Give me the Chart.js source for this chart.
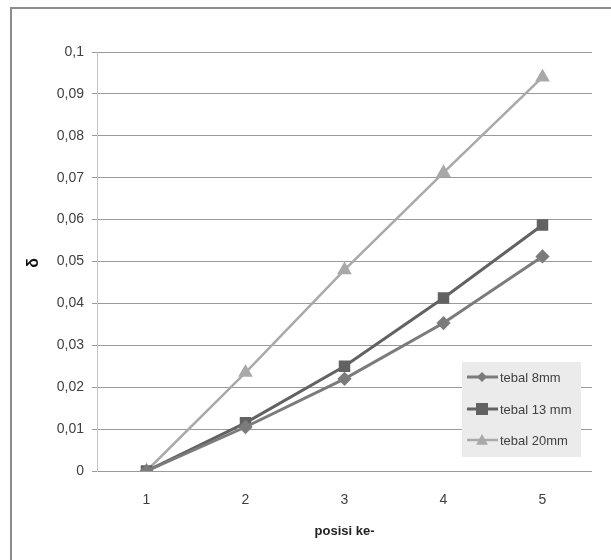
<!DOCTYPE html>
<html>
<head>
<meta charset="utf-8">
<script src="https://cdn.jsdelivr.net/npm/chart.js@4"></script>
<style>
  html, body { margin: 0; padding: 0; background: #fff; }
  #wrap { width: 611px; height: 560px; position: relative; }
</style>
</head>
<body>
<div id="wrap"><canvas id="chart" width="611" height="560"></canvas></div>
<script>
const positions = ['1', '2', '3', '4', '5'];
const tebal8 = [0, 0.0105, 0.022, 0.0353, 0.0512];
const tebal13 = [0, 0.0115, 0.025, 0.0413, 0.0587];
const tebal20 = [0, 0.0235, 0.048, 0.0712, 0.094];
const seriesLabels = ['tebal 8mm', 'tebal 13 mm', 'tebal 20mm'];

const FONT = "'Liberation Sans', sans-serif";
const TEXT = '#404040';

// frame + inner legend + y title, drawn by hand to sit where Excel puts them
const decor = {
    id: 'decor',
    beforeDraw(chart) {
        const ctx = chart.ctx;
        ctx.save();
        ctx.strokeStyle = '#8c8c8c';
        ctx.lineWidth = 2;
        ctx.beginPath();
        ctx.moveTo(11, 560);
        ctx.lineTo(11, 8);
        ctx.lineTo(611, 8);
        ctx.stroke();
        ctx.restore();
    },
    afterDraw(chart) {
        const ctx = chart.ctx;
        ctx.save();
        // y title
        ctx.fillStyle = '#111';
        ctx.font = "bold 16px " + FONT;
        ctx.translate(34, 263);
        ctx.rotate(-Math.PI / 2);
        ctx.textAlign = 'center';
        ctx.textBaseline = 'middle';
        ctx.fillText('δ', 0, 0);
        ctx.restore();

        // legend box
        ctx.save();
        ctx.fillStyle = '#ebebeb';
        ctx.fillRect(462, 362, 119, 95);
        const rows = [377, 409, 440];
        chart.data.datasets.forEach((ds, i) => {
            const y = rows[i];
            ctx.strokeStyle = ds.borderColor;
            ctx.lineWidth = ds.borderWidth;
            ctx.beginPath();
            ctx.moveTo(467, y);
            ctx.lineTo(498, y);
            ctx.stroke();
            ctx.fillStyle = ds.backgroundColor;
            const r = ds.pointRadius;
            ctx.beginPath();
            if (ds.pointStyle === 'rect') {
                ctx.rect(482 - r, y - r, 2 * r, 2 * r);
            } else if (ds.pointStyle === 'rectRot') {
                ctx.moveTo(482, y - r); ctx.lineTo(482 + r, y); ctx.lineTo(482, y + r); ctx.lineTo(482 - r, y);
            } else {
                ctx.moveTo(482, y - r); ctx.lineTo(482 + r, y + r * 0.8); ctx.lineTo(482 - r, y + r * 0.8);
            }
            ctx.closePath();
            ctx.fill();
            ctx.fillStyle = TEXT;
            ctx.font = "13px " + FONT;
            ctx.textAlign = 'left';
            ctx.textBaseline = 'middle';
            ctx.fillText(ds.label, 500, y + 1);
        });
        ctx.restore();
    }
};

new Chart(document.getElementById('chart'), {
    type: 'line',
    data: {
        labels: positions,
        datasets: [{
            label: seriesLabels[0],
            data: tebal8,
            borderColor: '#7b7b7b',
            backgroundColor: '#7b7b7b',
            borderWidth: 3,
            pointStyle: 'rectRot',
            pointRadius: 5,
            tension: 0
        }, {
            label: seriesLabels[1],
            data: tebal13,
            borderColor: '#626262',
            backgroundColor: '#626262',
            borderWidth: 3,
            pointStyle: 'rect',
            pointRadius: 6,
            tension: 0
        }, {
            label: seriesLabels[2],
            data: tebal20,
            borderColor: '#a9a9a9',
            backgroundColor: '#a9a9a9',
            borderWidth: 2.5,
            pointStyle: 'triangle',
            pointRadius: 6,
            tension: 0
        }]
    },
    options: {
        responsive: false,
        animation: false,
        layout: { padding: { left: 0, right: 19, top: 52, bottom: 17 } },
        scales: {
            x: {
                type: 'category',
                offset: true,
                grid: { display: false, drawTicks: false },
                border: { display: false },
                ticks: { color: TEXT, font: { family: FONT, size: 14 }, padding: 21 },
                title: {
                    display: true,
                    text: 'posisi ke-',
                    color: '#222',
                    font: { family: FONT, size: 13, weight: 'bold' },
                    padding: { top: 0, bottom: 4 }
                },
                afterFit(scale) { scale.height = 72; }
            },
            y: {
                min: 0,
                max: 0.1,
                ticks: {
                    stepSize: 0.01,
                    color: TEXT,
                    font: { family: FONT, size: 14 },
                    padding: 8,
                    callback: v => String(parseFloat(v.toFixed(2))).replace('.', ',')
                },
                grid: { color: '#9a9a9a', lineWidth: 1, tickLength: 5, tickColor: '#9a9a9a' },
                border: { display: true, color: '#c4c4c4' },
                afterFit(scale) { scale.width = 97; }
            }
        },
        plugins: {
            legend: { display: false },
            tooltip: { enabled: false }
        }
    },
    plugins: [decor]
});
</script>
</body>
</html>
